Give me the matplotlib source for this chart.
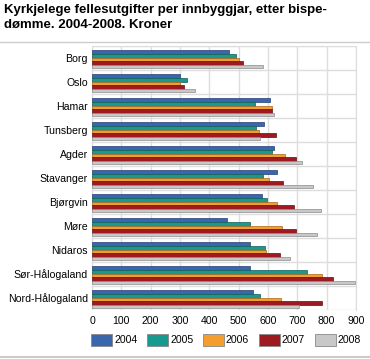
import matplotlib.pyplot as plt
import numpy as np
from matplotlib.patches import Patch
from matplotlib.lines import Line2D

plt.rcParams['font.family'] = ['Liberation Sans', 'DejaVu Sans']

dioceses = ["Borg", "Oslo", "Hamar", "Tunsberg", "Agder", "Stavanger",
            "Bjørgvin", "Møre", "Nidaros", "Sør-Hålogaland", "Nord-Hålogaland"]
years = ["2004", "2005", "2006", "2007", "2008"]
v2004 = [466, 301, 606, 586, 619, 630, 579, 459, 539, 538, 550]
v2005 = [490, 323, 557, 559, 614, 583, 596, 540, 589, 732, 572]
v2006 = [500, 299, 615, 569, 658, 603, 630, 647, 593, 784, 644]
v2007 = [514, 315, 612, 627, 697, 650, 690, 695, 642, 821, 784]
v2008 = [582, 350, 620, 572, 716, 753, 779, 767, 674, 895, 705]
series = [v2004, v2005, v2006, v2007, v2008]
colors = ["#3a66ad", "#16998f", "#f59d2d", "#9d1a20", "#c8c8c8"]
edges = ["#243f70", "#0e5f59", "#a8661a", "#5e0f12", "#8c8c8c"]

fig = plt.figure(figsize=(3.7, 3.59), dpi=100)
ax = fig.add_axes([92/370, 1 - 310/359, 264/370, 264/359])

n = len(dioceses)
y = np.arange(n)
h = 0.15
for i, vals in enumerate(series):
    ax.barh(y - 0.3 + i * h + h / 2 - 0.02, vals, height=h, color=colors[i],
            edgecolor=edges[i], linewidth=0.5, zorder=3)

ax.set_ylim(n - 0.5, -0.5)
ax.set_xlim(0, 900)
ax.set_xticks(range(0, 901, 100))
ax.set_yticks(y)
ax.set_yticklabels(dioceses)
ax.set_yticks(np.arange(-0.5, n, 1), minor=True)
ax.grid(True, axis='x', color="#dddddd", linewidth=1, zorder=0)
ax.grid(True, axis='y', which='minor', color="#dddddd", linewidth=1, zorder=0)
ax.tick_params(axis='both', which='both', length=0, labelsize=7.6, colors="#000000")
ax.tick_params(axis='y', pad=3)
ax.tick_params(axis='x', pad=4)
for side in ['top', 'right']:
    ax.spines[side].set_color("#dddddd")
for side in ['left', 'bottom']:
    ax.spines[side].set_visible(False)

fig.text(4/370, 1 - 4/359, "Kyrkjelege fellesutgifter per innbyggjar, etter bispe-\ndømme. 2004-2008. Kroner",
         fontsize=9.5, fontweight='bold', va='top', ha='left', linespacing=1.3)
fig.add_artist(Line2D([0, 1], [1 - 42/359, 1 - 42/359], color="#cccccc", linewidth=1))
fig.add_artist(Line2D([0, 1], [1 - 357/359, 1 - 357/359], color="#cccccc", linewidth=1.5))

handles = [Patch(facecolor=c, edgecolor="#888888", linewidth=0.6) for c in colors]
fig.legend(handles, years, loc='center', bbox_to_anchor=(226/370, 1 - 340/359), ncol=5,
           frameon=False, fontsize=7.6, handlelength=2.0, handleheight=1.5,
           handletextpad=0.2, columnspacing=0.9, borderpad=0)

fig.savefig("out.png", dpi=100)
